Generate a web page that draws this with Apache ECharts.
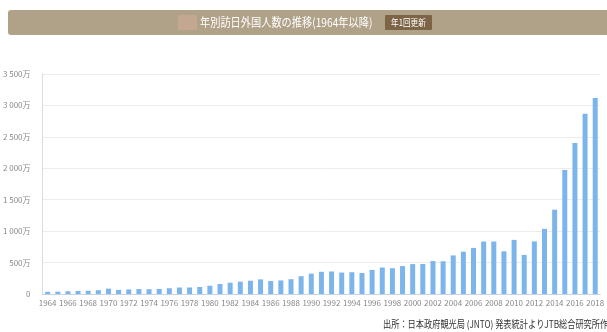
<!DOCTYPE html>
<html><head><meta charset="utf-8">
<script src="https://cdn.jsdelivr.net/npm/echarts@6/dist/echarts.min.js"></script>
<style>html,body{margin:0;padding:0;background:#fff}#c{width:607px;height:332px}</style>
</head><body><div id="c"></div>
<script>
const years = [];
for (let y = 1964; y <= 2018; y++) years.push(String(y));
const visitors = [35.3,36.7,43.3,47.7,51.9,60.9,85.4,66.0,72.4,78.5,76.4,81.2,91.5,102.8,103.9,111.3,131.7,158.3,179.3,196.8,211.0,232.7,206.2,215.5,235.5,283.5,323.6,353.3,358.2,341.0,346.8,334.5,383.7,421.8,410.6,443.8,475.7,477.2,523.9,521.2,613.8,672.8,733.4,834.7,835.1,679.0,861.1,621.9,835.8,1036.4,1341.3,1973.7,2404.0,2869.1,3119.2];
const titleText = '年別訪日外国人数の推移(1964年以降)';
const badgeText = '年1回更新';
const sourceText = '出所：日本政府観光局 (JNTO) 発表統計よりJTB総合研究所作成';
const yMax = 3500, yStep = 500;

const chart = echarts.init(document.getElementById('c'));
const font = '"Noto Sans CJK JP", "Noto Sans", sans-serif';
chart.setOption({
  animation: false,
  grid: {left: 40, right: -1, top: 74, bottom: 38},
  xAxis: {
    type: 'category', data: years,
    axisLine: {lineStyle: {color: '#c8d4e4'}},
    axisTick: {show: false},
    axisLabel: {interval: 1, fontSize: 8, color: '#888', fontFamily: font, margin: 5}
  },
  yAxis: {
    type: 'value', min: 0, max: yMax, interval: yStep,
    axisLine: {show: true, lineStyle: {color: '#ddd'}},
    axisTick: {show: false},
    splitLine: {lineStyle: {color: '#ececec'}},
    axisLabel: {fontSize: 8, color: '#888', fontFamily: font, margin: 12,
      formatter: v => v === 0 ? '0' : (v >= 1000 ? Math.floor(v/1000) + ' ' + String(v%1000).padStart(3,'0') : String(v)) + '万'}
  },
  series: [{
    type: 'bar', data: visitors, barWidth: 5,
    itemStyle: {color: '#7cb5ec'}
  }],
  graphic: [
    {type: 'rect', shape: {x: 8, y: 10, width: 610, height: 25, r: 3}, style: {fill: '#b0a288'}, z: 10},
    {type: 'rect', shape: {x: 178, y: 15, width: 19, height: 15}, style: {fill: '#c3a791'}, z: 11},
    {type: 'text', x: 200, y: 22.5, scaleX: 0.85, style: {x: 0, y: 0, text: titleText, fill: '#fff', font: '12px ' + font, verticalAlign: 'middle'}, z: 11},
    {type: 'rect', shape: {x: 385, y: 15, width: 47, height: 15, r: 1}, style: {fill: '#7d6446'}, z: 11},
    {type: 'text', x: 408.5, y: 22.5, scaleX: 0.85, style: {x: 0, y: 0, text: badgeText, fill: '#fff', font: '9px ' + font, align: 'center', verticalAlign: 'middle'}, z: 12},
    {type: 'text', x: 383, y: 324, scaleX: 0.82, style: {x: 0, y: 0, text: sourceText, fill: '#333', font: '10px ' + font, verticalAlign: 'middle'}, z: 11}
  ]
});
</script></body></html>
